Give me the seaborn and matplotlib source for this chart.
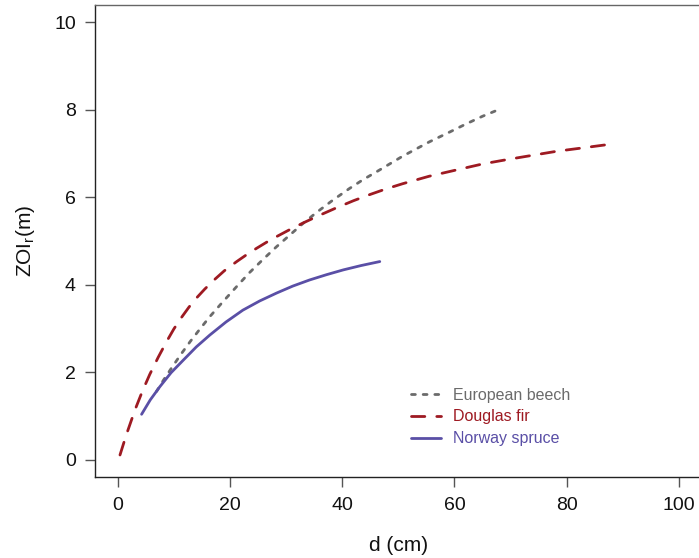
import matplotlib
matplotlib.use("Agg")
import matplotlib.pyplot as plt
import seaborn as sns
import pandas as pd

# ---- data ----
beech_d = [6.9, 8.2, 9.6, 11.2, 12.9, 14.6, 16.4, 18.8, 21.2, 23.5, 25.9, 28.3, 30.7, 33.0,
           35.4, 38.3, 41.3, 43.7, 46.1, 50.8, 55.6, 59.0, 62.0, 65.0, 68.4]
beech_z = [1.56, 1.83, 2.10, 2.40, 2.70, 2.98, 3.27, 3.62, 3.96, 4.28, 4.58, 4.87, 5.14, 5.40,
           5.65, 5.93, 6.20, 6.40, 6.58, 6.94, 7.27, 7.48, 7.67, 7.85, 8.03]

fir_d = [0.4, 1.5, 3.1, 4.4, 5.7, 7.2, 8.7, 10.0, 11.4, 12.7, 14.05, 15.5, 17.0, 19.0, 21.2,
         23.0, 24.7, 26.5, 28.3, 30.5, 33.0, 36.0, 39.0, 42.0, 44.9, 47.8, 50.8, 55.5, 60.9,
         65.0, 69.8, 74.0, 78.2, 83.0, 87.7]
fir_z = [0.11, 0.56, 1.15, 1.57, 1.95, 2.34, 2.70, 2.99, 3.26, 3.49, 3.70, 3.90, 4.09, 4.32, 4.53,
         4.69, 4.83, 4.97, 5.10, 5.25, 5.41, 5.59, 5.76, 5.92, 6.06, 6.19, 6.31, 6.48, 6.64,
         6.76, 6.87, 6.96, 7.05, 7.13, 7.21]

spruce_d = [4.25, 5.8, 7.5, 9.5, 11.7, 14.0, 16.4, 19.3, 22.3, 25.3, 28.3, 31.2, 34.2, 37.2,
            40.2, 43.4, 46.7]
spruce_z = [1.04, 1.37, 1.67, 1.99, 2.28, 2.58, 2.85, 3.15, 3.42, 3.63, 3.81, 3.97, 4.11, 4.23,
            4.34, 4.44, 4.53]

species = ["European beech", "Douglas fir", "Norway spruce"]
colors = ["#6b6b6b", "#9e1a22", "#5a4fa6"]
x_ticks = [0, 20, 40, 60, 80, 100]
y_ticks = [0, 2, 4, 6, 8, 10]

frames = []
for name, d, z in [(species[0], beech_d, beech_z), (species[1], fir_d, fir_z), (species[2], spruce_d, spruce_z)]:
    frames.append(pd.DataFrame({"d": d, "z": z, "species": name}))
df = pd.concat(frames, ignore_index=True)

sns.set_style("white")
plt.rcParams["font.family"] = ["Liberation Sans", "DejaVu Sans"]

fig = plt.figure(figsize=(6.99, 5.58), dpi=100)
ax = fig.add_axes([95.3 / 699, (558 - 477.3) / 558, 606 / 699, (477.3 - 4.7) / 558])

dash_styles = {species[0]: (1.4, 2.8), species[1]: (4.8, 4.3), species[2]: ()}
for name, col in zip(species, colors):
    sub = df[df["species"] == name]
    sns.lineplot(data=sub, x="d", y="z", ax=ax, color=col, linewidth=2.0,
                 label=name, estimator=None, sort=True)
    ln = ax.lines[-1]
    if dash_styles[name]:
        ln.set_dashes(dash_styles[name])
    ln.set_solid_capstyle("round")
    ln.set_dash_capstyle("round")
    ln.set_solid_joinstyle("round")

ax.set_xlim(-4, 104)
ax.set_ylim(-0.4, 10.4)
ax.set_xticks(x_ticks)
ax.set_yticks(y_ticks)
ax.tick_params(axis="both", direction="out", length=7, width=1, color="#555555",
               labelsize=14, labelcolor="#111111", bottom=True, left=True, pad=7)
for s in ["top", "left", "bottom", "right"]:
    ax.spines[s].set_visible(True)
    ax.spines[s].set_color("#222222")
    ax.spines[s].set_linewidth(1.0)
ax.spines["top"].set_color("#666666")

ax.set_xlabel("d (cm)", fontsize=15, color="#111111", labelpad=16)
ax.set_ylabel(r"ZOI$_\mathregular{r}$(m)", fontsize=15, color="#111111", labelpad=12)

leg = ax.legend(frameon=False, loc="upper left", bbox_to_anchor=(0.51, 0.203),
                fontsize=11.5, handlelength=1.9, handletextpad=0.75, labelspacing=0.42,
                labelcolor="linecolor", borderaxespad=0)

fig.savefig("out.png", dpi=100)
